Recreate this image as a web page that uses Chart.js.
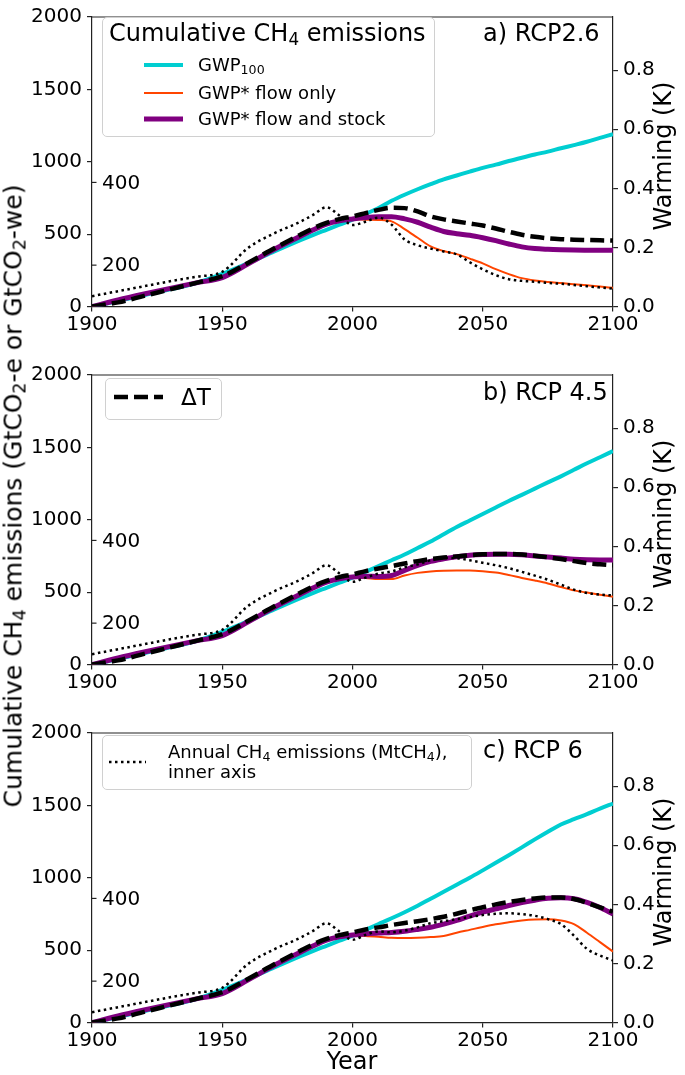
<!DOCTYPE html>
<html><head><meta charset="utf-8">
<script src="https://cdn.jsdelivr.net/npm/chart.js@4.4.1/dist/chart.umd.min.js"></script>
<style>
html,body{margin:0;padding:0;background:#fff;}
body{width:685px;height:1075px;position:relative;overflow:hidden;font-family:"DejaVu Sans",sans-serif;color:#000;}
canvas{position:absolute;left:0;}
.t{position:absolute;white-space:nowrap;line-height:1;}
.rot{transform:translate(-50%,-50%) rotate(-90deg);}
sub{font-size:70%;vertical-align:-0.22em;line-height:0;}
.leg{position:absolute;border:1px solid #d0d0d0;border-radius:5px;background:rgba(255,255,255,0.8);box-sizing:border-box;}
svg{position:absolute;overflow:visible;}
</style>
</head><body>
<canvas id="ca" width="685" height="358" style="top:0px"></canvas>
<canvas id="cb" width="685" height="358" style="top:358px"></canvas>
<canvas id="cc" width="685" height="359" style="top:716px"></canvas>

<div class="t rot" style="left:13px;top:496px;font-size:25px;">Cumulative CH<sub>4</sub> emissions (GtCO<sub>2</sub>-e or GtCO<sub>2</sub>-we)</div>
<div class="t rot" style="left:663px;top:156px;font-size:24px;">Warming (K)</div>
<div class="t rot" style="left:663px;top:514px;font-size:24px;">Warming (K)</div>
<div class="t rot" style="left:663px;top:872px;font-size:24px;">Warming (K)</div>
<div class="t" style="left:352px;top:1061px;font-size:24px;transform:translate(-50%,-50%);">Year</div>

<div class="t" style="left:483px;top:21px;font-size:24px;">a) RCP2.6</div>
<div class="t" style="left:483px;top:380px;font-size:24px;">b) RCP 4.5</div>
<div class="t" style="left:483px;top:738px;font-size:24px;">c) RCP 6</div>

<!-- legend a -->
<div class="leg" style="left:102px;top:17px;width:333px;height:120px;"></div>
<div class="t" style="left:109px;top:21px;font-size:24px;">Cumulative CH<sub>4</sub> emissions</div>
<svg style="left:0;top:0;width:1px;height:1px"><line x1="144" y1="65" x2="183" y2="65" stroke="#00CED1" stroke-width="4"/></svg>
<svg style="left:0;top:0;width:1px;height:1px"><line x1="144" y1="93" x2="183" y2="93" stroke="#FF4500" stroke-width="2"/></svg>
<svg style="left:0;top:0;width:1px;height:1px"><line x1="144" y1="119" x2="183" y2="119" stroke="#800080" stroke-width="5"/></svg>
<div class="t" style="left:198px;top:56px;font-size:18px;">GWP<sub>100</sub></div>
<div class="t" style="left:198px;top:84px;font-size:18px;">GWP* flow only</div>
<div class="t" style="left:198px;top:110px;font-size:18px;">GWP* flow and stock</div>

<!-- legend b -->
<div class="leg" style="left:105px;top:378px;width:117px;height:42px;"></div>
<svg style="left:0;top:0;width:1px;height:1px"><line x1="114" y1="397" x2="163" y2="397" stroke="#000" stroke-width="4.5" stroke-dasharray="14 6"/></svg>
<div class="t" style="left:181px;top:386px;font-size:23px;">ΔT</div>

<!-- legend c -->
<div class="leg" style="left:102px;top:735px;width:370px;height:55px;"></div>
<svg style="left:0;top:0;width:1px;height:1px"><line x1="109" y1="762" x2="146" y2="762" stroke="#000" stroke-width="2.5" stroke-dasharray="2.5 3.5"/></svg>
<div class="t" style="left:168px;top:743px;font-size:18px;">Annual CH<sub>4</sub> emissions (MtCH<sub>4</sub>),</div>
<div class="t" style="left:168px;top:763px;font-size:18px;">inner axis</div>

<script>
// ---------- data ----------
const years = [1900,1910,1920,1930,1940,1950,1960,1970,1980,1985,1990,1995,
               2000,2005,2010,2015,2020,2025,2030,2035,2040,2045,2050,2055,2060,2065,2070,2075,2080,2085,2090,2095,2100];
const xTicks = [1900,1950,2000,2050,2100];
const cumTicks = [0,500,1000,1500,2000];
const warmTicks = [0.0,0.2,0.4,0.6,0.8];
const innerTicks = [200,400];

// historical part (1900-1995), shared by all scenarios
const histGWP100   = [0,38,78,118,162,225,300,380,458,495,530,565];
const histFlow     = [0,45,86,125,163,200,295,395,485,530,569,592];
const histStock    = [0,45,86,125,163,200,295,395,485,530,569,592];
const histDT       = [0,0.014,0.036,0.058,0.08,0.103,0.148,0.197,0.243,0.265,0.283,0.296];
const histAnnual   = [125,137,149,161,172,184,242,277,305,322,340,320];

// RCP2.6 (2000-2100)
const a_GWP100 = [600,640,680,730,772,810,845,878,905,932,958,980,1005,1028,1050,1070,1093,1115,1138,1165,1190];
const a_Flow   = [602,600,598,588,535,475,415,383,362,331,298,258,224,196,180,170,162,154,146,138,129];
const a_Stock  = [605,615,620,620,605,582,548,518,503,492,475,455,432,412,400,395,392,390,389,389,388];
const a_DT     = [0.305,0.316,0.327,0.334,0.333,0.322,0.305,0.295,0.288,0.281,0.274,0.264,0.253,0.243,0.236,0.231,0.228,0.226,0.225,0.224,0.223];
const a_Annual = [297,305,315,298,262,248,240,233,226,207,190,176,166,162,160,157,155,152,149,146,143];

// RCP4.5
const b_GWP100 = [600,640,680,720,760,805,850,900,950,995,1040,1085,1130,1172,1215,1258,1300,1345,1390,1432,1475];
const b_Flow   = [602,598,590,590,615,633,643,648,650,650,645,635,618,598,580,560,535,512,497,482,468];
const b_Stock  = [605,610,608,615,650,685,712,730,745,755,760,762,762,758,750,743,735,727,723,722,722];
const b_DT     = [0.305,0.316,0.325,0.333,0.342,0.350,0.357,0.362,0.366,0.370,0.373,0.374,0.374,0.372,0.368,0.363,0.357,0.350,0.343,0.339,0.336];
const b_Annual = [300,310,320,325,335,342,352,358,357,352,346,340,333,324,315,305,293,281,273,269,267];

// RCP6
const c_GWP100 = [600,640,680,720,762,807,855,903,952,1000,1051,1103,1156,1210,1265,1318,1368,1405,1440,1478,1513];
const c_Flow   = [602,598,592,585,583,585,590,598,620,640,660,678,692,705,712,713,705,680,620,555,490];
const c_Stock  = [605,612,618,622,630,643,658,680,705,735,762,785,808,828,845,858,862,855,830,795,750];
const c_DT     = [0.305,0.315,0.322,0.330,0.337,0.343,0.350,0.358,0.368,0.380,0.390,0.400,0.408,0.415,0.420,0.423,0.423,0.418,0.405,0.390,0.375];
const c_Annual = [300,312,320,318,322,330,340,345,350,355,360,363,364,362,358,350,338,310,278,262,250];

// ---------- chart building ----------
const FONT = 'DejaVu Sans';
const pts = (hist, fut) => hist.concat(fut).map((v,i)=>({x:years[i], y:v}));

const framePlugin = {
  id:'frame',
  afterDatasetsDraw(chart){
    const {ctx, chartArea:ca} = chart;
    const yIn = chart.scales.yIn;
    ctx.save();
    ctx.strokeStyle = '#222'; ctx.lineWidth = 1.2;
    ctx.beginPath(); ctx.moveTo(ca.left, ca.top); ctx.lineTo(ca.right, ca.top); ctx.stroke();
    ctx.fillStyle = '#000';
    ctx.font = '20px "' + FONT + '"';
    ctx.textAlign = 'left'; ctx.textBaseline = 'middle';
    innerTicks.forEach(v=>{
      const y = yIn.getPixelForValue(v);
      ctx.beginPath(); ctx.moveTo(ca.left, y); ctx.lineTo(ca.left+4.5, y); ctx.stroke();
      ctx.fillText(String(v), ca.left + 10, y + 1);
    });
    ctx.restore();
  }
};

function tickSetter(arr){ return s => { s.ticks = arr.map(v=>({value:v})); }; }

function makePanel(id, d, xAxisH){
  const ds = (label, data, axis, color, width, dash, order) => ({
    label, data, yAxisID: axis, borderColor: color, borderWidth: width,
    borderDash: dash, borderCapStyle: 'butt', pointRadius: 0, fill: false,
    cubicInterpolationMode: 'monotone', order
  });
  new Chart(document.getElementById(id), {
    type: 'line',
    data: { datasets: [
      ds('Annual CH4 emissions', pts(histAnnual, d.annual), 'yIn', '#000', 2.5, [2.5,3.5], 0),
      ds('ΔT', pts(histDT, d.dt), 'yR', '#000', 4.5, [14,6], 1),
      ds('GWP* flow and stock', pts(histStock, d.stock), 'y', '#800080', 5, [], 2),
      ds('GWP* flow only', pts(histFlow, d.flow), 'y', '#FF4500', 2, [], 3),
      ds('GWP100', pts(histGWP100, d.gwp), 'y', '#00CED1', 4, [], 4)
    ]},
    options: {
      responsive: false, animation: false, devicePixelRatio: 1,
      layout: { padding: { top: 6.5, left: 0, right: 0, bottom: 0 } },
      plugins: { legend: { display: false }, tooltip: { enabled: false } },
      scales: {
        x: {
          type: 'linear', min: 1900, max: 2100,
          afterBuildTicks: tickSetter(xTicks),
          afterFit: s => { s.height = xAxisH; },
          ticks: { font: { family: FONT, size: 20 }, color: '#000', padding: 1, maxRotation: 0, autoSkip: false,
                   callback: v => String(v) },
          grid: { display: true, drawOnChartArea: false, drawTicks: true, tickLength: 5, color: '#222', lineWidth: 1.2 },
          border: { display: true, color: '#222', width: 1.2 }
        },
        y: {
          position: 'left', min: 0, max: 2000,
          afterBuildTicks: tickSetter(cumTicks),
          afterFit: s => { s.width = 92; },
          ticks: { font: { family: FONT, size: 20 }, color: '#000', padding: 5, autoSkip: false, callback: v => String(v) },
          grid: { display: true, drawOnChartArea: false, drawTicks: true, tickLength: 5, color: '#222', lineWidth: 1.2 },
          border: { display: true, color: '#222', width: 1.2 }
        },
        yR: {
          position: 'right', min: 0, max: 0.98,
          afterBuildTicks: tickSetter(warmTicks),
          afterFit: s => { s.width = 72; },
          ticks: { font: { family: FONT, size: 20 }, color: '#000', padding: 5, autoSkip: false, callback: v => v.toFixed(1) },
          grid: { display: true, drawOnChartArea: false, drawTicks: true, tickLength: 5, color: '#222', lineWidth: 1.2 },
          border: { display: true, color: '#222', width: 1.2 }
        },
        yIn: { display: false, position: 'left', min: 100, max: 800 }
      }
    },
    plugins: [framePlugin]
  });
}

makePanel('ca', {gwp:a_GWP100, flow:a_Flow, stock:a_Stock, dt:a_DT, annual:a_Annual}, 51.5);
makePanel('cb', {gwp:b_GWP100, flow:b_Flow, stock:b_Stock, dt:b_DT, annual:b_Annual}, 51.5);
makePanel('cc', {gwp:c_GWP100, flow:c_Flow, stock:c_Stock, dt:c_DT, annual:c_Annual}, 52.5);
</script>
</body></html>
